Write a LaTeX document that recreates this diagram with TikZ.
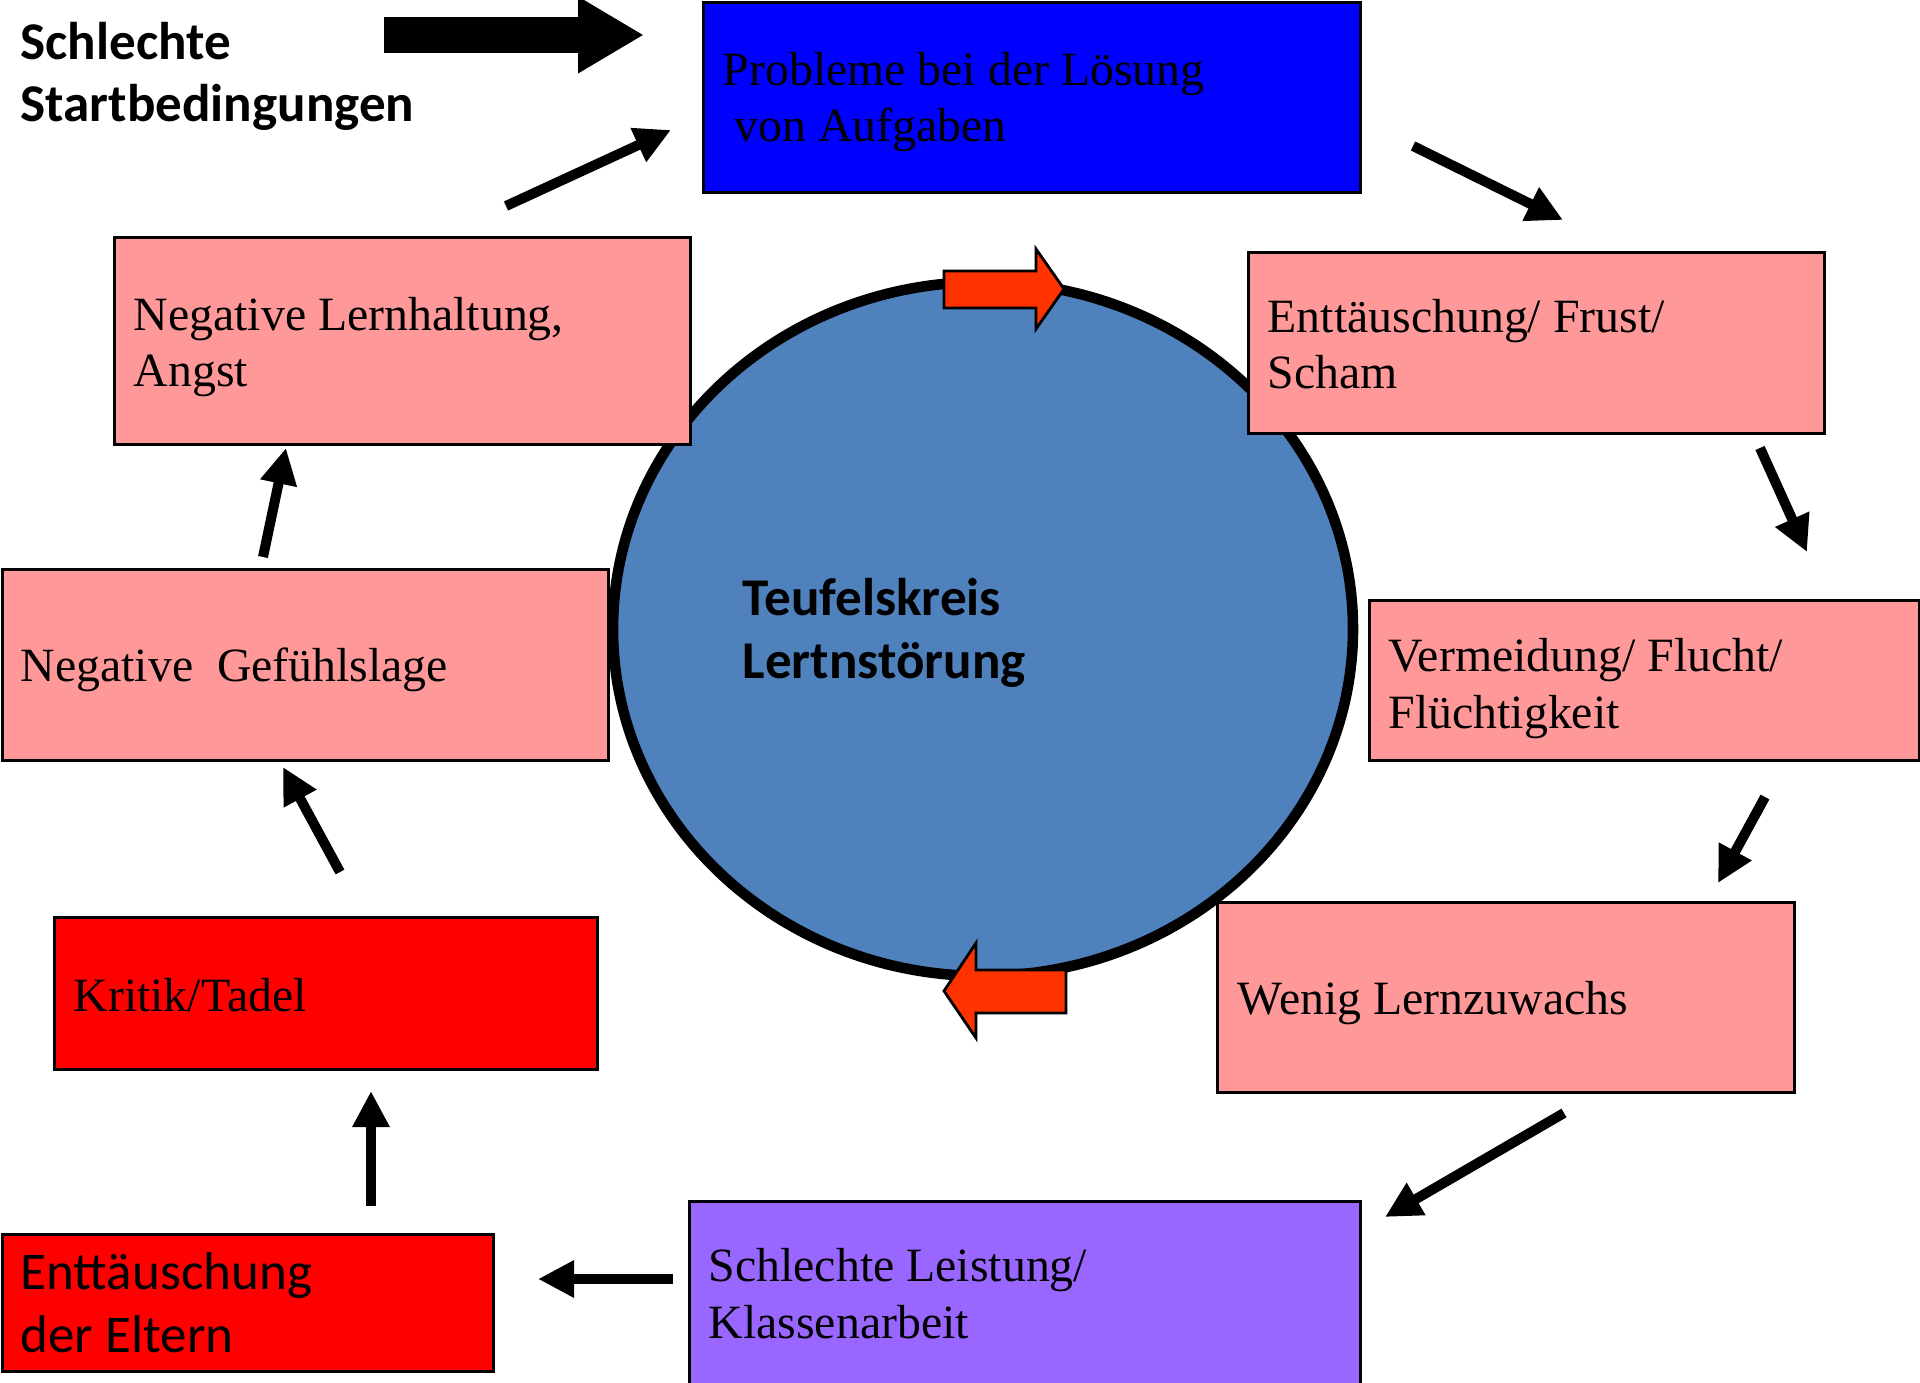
\documentclass[tikz,border=0pt]{standalone}
\usepackage{fontspec}
\setmainfont{Liberation Serif}
\newfontfamily\calibri{Carlito}
\usetikzlibrary{arrows.meta}

\definecolor{pinkbox}{RGB}{255,153,153}
\definecolor{bluebox}{RGB}{0,0,255}
\definecolor{purplebox}{RGB}{153,102,255}
\definecolor{redbox}{RGB}{255,0,0}
\definecolor{kreisblue}{RGB}{79,129,189}
\definecolor{redarrow}{RGB}{255,51,0}

\tikzset{
  box/.style={draw=black,line width=0.8pt,rectangle,anchor=north west,inner sep=0pt},
  txt/.style={anchor=base west,inner sep=0pt,align=left,font=\fontsize{13.6}{16}\selectfont},
  cal/.style={anchor=base west,inner sep=0pt,align=left,font=\calibri\fontsize{15.1}{17.8}\selectfont},
  calb/.style={cal,font=\calibri\bfseries\fontsize{15.1}{17.8}\selectfont},
  arr/.style={line width=0.1cm,-{Triangle[length=0.36cm,width=0.35cm]}},
}

\begin{document}
\begin{tikzpicture}
\useasboundingbox (0,0) rectangle (19.2,13.82);

% circle and the two red arrows on it
\draw[fill=kreisblue,line width=3pt] (9.83,7.53) ellipse (3.70 and 3.47);
\draw[fill=redarrow,line width=0.8pt] (9.44,11.11) -- (10.36,11.11) -- (10.36,11.33) -- (10.64,10.93) -- (10.36,10.53) -- (10.36,10.74) -- (9.44,10.74) -- cycle;
\draw[fill=redarrow,line width=0.8pt] (10.66,4.12) -- (9.76,4.12) -- (9.76,4.39) -- (9.44,3.91) -- (9.76,3.44) -- (9.76,3.69) -- (10.66,3.69) -- cycle;
\node[calb] (kreis) at (7.42,7.04) {Teufelskreis\\Lertnstörung};

% boxes
\node[box,fill=bluebox,minimum width=6.57cm,minimum height=1.90cm] (prob) at (7.02,13.81) {};
\node[box,fill=pinkbox,minimum width=5.76cm,minimum height=2.07cm] (lern) at (1.13,11.46) {};
\node[box,fill=pinkbox,minimum width=5.76cm,minimum height=1.81cm] (frust) at (12.47,11.31) {};
\node[box,fill=pinkbox,minimum width=6.06cm,minimum height=1.91cm] (gefuehl) at (0.01,8.14) {};
\node[box,fill=pinkbox,minimum width=5.50cm,minimum height=1.60cm] (flucht) at (13.68,7.83) {};
\node[box,fill=redbox,minimum width=5.43cm,minimum height=1.52cm] (kritik) at (0.53,4.66) {};
\node[box,fill=pinkbox,minimum width=5.77cm,minimum height=1.90cm] (wenig) at (12.16,4.81) {};
\node[box,fill=purplebox,minimum width=6.71cm,minimum height=2.00cm] (leistung) at (6.88,1.82) {};
\node[box,fill=redbox,minimum width=4.91cm,minimum height=1.37cm] (eltern) at (0.01,1.49) {};

% texts (placed at the baseline of their last line)
\node[calb] (start) at (0.20,12.60) {Schlechte\\Startbedingungen};
\node[txt] (probtxt) at (7.22,12.40) {Probleme bei der Lösung\\\hspace*{0.25em}von Aufgaben};
\node[txt] (lerntxt) at (1.33,9.95) {Negative Lernhaltung,\\Angst};
\node[txt] (frusttxt) at (12.67,9.93) {Enttäuschung/ Frust/\\Scham};
\node[txt] (gefuehltxt) at (0.20,7.00) {Negative\ \ Gefühlslage};
\node[txt] (fluchttxt) at (13.88,6.54) {Vermeidung/ Flucht/\\Flüchtigkeit};
\node[txt] (kritiktxt) at (0.73,3.71) {Kritik/Tadel};
\node[txt] (wenigtxt) at (12.37,3.68) {Wenig Lernzuwachs};
\node[txt] (leistungtxt) at (7.08,0.44) {Schlechte Leistung/\\Klassenarbeit};
\node[cal] (elterntxt) at (0.20,0.30) {Enttäuschung\\der Eltern};

% arrow ends
\coordinate (s0) at (3.84,13.47); \coordinate (e0) at (6.44,13.47);
\coordinate (s1) at (5.06,11.76); \coordinate (e1) at (6.71,12.52);
\coordinate (s2) at (14.13,12.36); \coordinate (e2) at (15.63,11.62);
\coordinate (s3) at (17.60,9.34); \coordinate (e3) at (18.07,8.30);
\coordinate (s4) at (17.65,5.85); \coordinate (e4) at (17.18,4.99);
\coordinate (s5) at (15.64,2.69); \coordinate (e5) at (13.85,1.65);
\coordinate (s6) at (6.73,1.03); \coordinate (e6) at (5.38,1.03);
\coordinate (s7) at (3.71,1.76); \coordinate (e7) at (3.71,2.91);
\coordinate (s8) at (3.40,5.10); \coordinate (e8) at (2.83,6.15);
\coordinate (s9) at (2.63,8.25); \coordinate (e9) at (2.86,9.34);

\draw[line width=0.36cm,-{Triangle[length=0.66cm,width=0.72cm]}] (s0) -- (e0);
\draw[arr] (s1) -- (e1);
\draw[arr] (s2) -- (e2);
\draw[arr] (s3) -- (e3);
\draw[arr] (s4) -- (e4);
\draw[arr] (s5) -- (e5);
\draw[arr] (s6) -- (e6);
\draw[arr] (s7) -- (e7);
\draw[arr] (s8) -- (e8);
\draw[arr] (s9) -- (e9);

\end{tikzpicture}
\end{document}
